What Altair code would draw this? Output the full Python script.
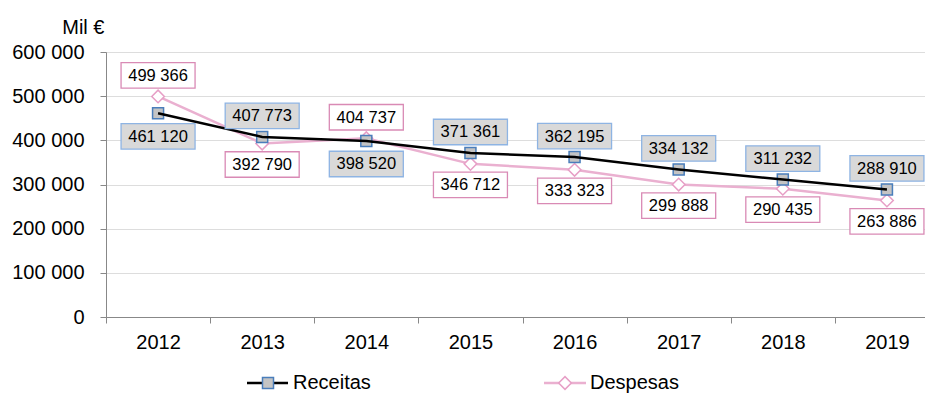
import altair as alt
import pandas as pd

# ---- data ----
years = ["2012", "2013", "2014", "2015", "2016", "2017", "2018", "2019"]
receitas = [461120, 407773, 398520, 371361, 362195, 334132, 311232, 288910]
despesas = [499366, 392790, 404737, 346712, 333323, 299888, 290435, 263886]
receitas_pos = ["below", "above", "below", "above", "above", "above", "above", "above"]
despesas_pos = ["above", "below", "above", "below", "below", "below", "below", "below"]
series_names = ["Receitas", "Despesas"]
y_ticks = [0, 100000, 200000, 300000, 400000, 500000, 600000]
y_title = "Mil €"


def fmt(v):
    return f"{v:,}".replace(",", " ")


rows = []
for name, vals, poss in [("Receitas", receitas, receitas_pos), ("Despesas", despesas, despesas_pos)]:
    for yr, v, p in zip(years, vals, poss):
        rows.append({"ano": yr, "serie": name, "valor": v, "rotulo": fmt(v), "pos": p})
df = pd.DataFrame(rows)

FONT = "Liberation Sans"
BLACK_LINE = "#000000"
PINK_LINE = "#eab0d0"
SQ_STROKE = "#4a7ebb"
SQ_FILL = "#c4c4c4"
DIA_STROKE = "#e79fc6"
REC_BOX_FILL = "#d9d9d9"
REC_BOX_STROKE = "#8eb4e3"
DES_BOX_STROKE = "#d98ab5"
BOX = "M-1.48,-0.51H1.48V0.51H-1.48Z"

x_enc = alt.X(
    "ano:N",
    sort=years,
    scale=alt.Scale(type="band", domain=years, paddingInner=0, paddingOuter=0, range=[0, 833]),
    axis=alt.Axis(
        title=None, labelAngle=0, tickBand="extent", tickSize=6, labelPadding=9,
        grid=False, labelFontSize=20,
    ),
)
y_enc = alt.Y(
    "valor:Q",
    scale=alt.Scale(domain=[0, 600000], nice=False, zero=True),
    axis=alt.Axis(
        values=y_ticks,
        labelExpr="replace(format(datum.value, ','), ',', ' ')",
        title=y_title, titleAngle=0, titleAlign="right", titleBaseline="middle",
        titleX=-2, titleY=-25, titleFontSize=20, titleFontWeight="normal",
        titleFont=FONT, titleColor="#000000",
        tickSize=6, labelPadding=16, labelFontSize=20, grid=True,
    ),
)

base = alt.Chart(df).encode(x=x_enc, y=y_enc)

rec = base.transform_filter(alt.datum.serie == "Receitas")
des = base.transform_filter(alt.datum.serie == "Despesas")

des_line = des.mark_line(color=PINK_LINE, strokeWidth=2.5)
des_pts = des.mark_point(shape="diamond", size=160, filled=True, fill="white",
                         stroke=DIA_STROKE, strokeWidth=1.5, opacity=1)
rec_pts = rec.mark_point(shape="square", size=121, filled=True, fill=SQ_FILL,
                         stroke=SQ_STROKE, strokeWidth=1.5, opacity=1)
rec_line = rec.mark_line(color=BLACK_LINE, strokeWidth=2.5)


def label_layers(sub, pos, off, fill, stroke):
    s = sub.transform_filter(alt.datum.pos == pos)
    box = s.mark_point(shape=BOX, size=2500, filled=True, fill=fill, stroke=stroke,
                       strokeWidth=1.3, opacity=1, yOffset=off)
    txt = s.mark_text(font=FONT, fontSize=16.5, color="#000000", baseline="middle",
                      align="center", yOffset=off + 0.5).encode(text="rotulo:N")
    return [box, txt]


labels = []
labels += label_layers(rec, "above", -21, REC_BOX_FILL, REC_BOX_STROKE)
labels += label_layers(rec, "below", 23, REC_BOX_FILL, REC_BOX_STROKE)
labels += label_layers(des, "above", -21, "white", DES_BOX_STROKE)
labels += label_layers(des, "below", 21, "white", DES_BOX_STROKE)

# ---- manual legend (line + marker + text) ----
leg_y = 331
leg_rec = pd.DataFrame({"nome": [series_names[0]]})
leg_des = pd.DataFrame({"nome": [series_names[1]]})
legend = [
    alt.Chart(leg_rec).mark_rule(color=BLACK_LINE, strokeWidth=2.5).encode(
        x=alt.value(141), x2=alt.value(182), y=alt.value(leg_y)),
    alt.Chart(leg_rec).mark_point(shape="square", size=121, filled=True, fill=SQ_FILL,
                                  stroke=SQ_STROKE, strokeWidth=1.5, opacity=1).encode(
        x=alt.value(162), y=alt.value(leg_y)),
    alt.Chart(leg_rec).mark_text(font=FONT, fontSize=20, align="left", baseline="middle",
                                 color="#000000").encode(
        x=alt.value(187), y=alt.value(leg_y), text="nome:N"),
    alt.Chart(leg_des).mark_rule(color=PINK_LINE, strokeWidth=2.5).encode(
        x=alt.value(438), x2=alt.value(480), y=alt.value(leg_y)),
    alt.Chart(leg_des).mark_point(shape="diamond", size=160, filled=True, fill="white",
                                  stroke=DIA_STROKE, strokeWidth=1.5, opacity=1).encode(
        x=alt.value(459), y=alt.value(leg_y)),
    alt.Chart(leg_des).mark_text(font=FONT, fontSize=20, align="left", baseline="middle",
                                 color="#000000").encode(
        x=alt.value(484), y=alt.value(leg_y), text="nome:N"),
]

chart = alt.layer(des_line, des_pts, rec_pts, rec_line, *labels, *legend).properties(
    width=819,
    height=265,
    autosize=alt.AutoSizeParams(type="none"),
    padding={"left": 98, "top": 44, "right": 0, "bottom": 78},
).configure_view(stroke=None).configure_axis(
    labelFont=FONT, labelColor="#000000", domainColor="#a6a6a6", tickColor="#a6a6a6",
    gridColor="#d9d9d9", domainWidth=1.3, gridWidth=1.2,
).configure(background="white")

chart.save("out.html", embed_options={"renderer": "svg", "actions": False})
